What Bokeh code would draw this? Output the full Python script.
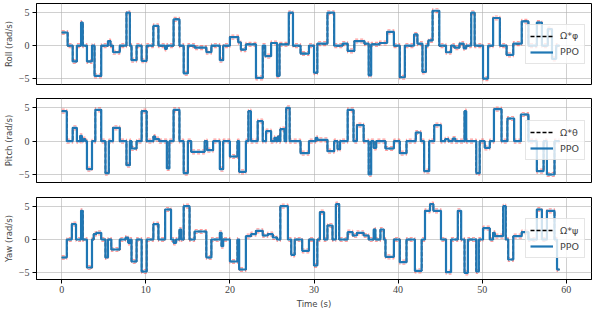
from bokeh.plotting import figure
from bokeh.layouts import column
from bokeh.models import Range1d, Legend, LegendItem, FixedTicker
from bokeh.embed import file_html
from bokeh.resources import INLINE

T_END = 59.2
TOL = 0.3

x_ticks = [0, 10, 20, 30, 40, 50, 60]
y_ticks = [-5, 0, 5]
y_tick_labels = {-5: "\u22125", 0: "0", 5: "5"}

roll_steps = [
    (0, 2.0), (0.7, 0), (1.3, -2.4), (1.8, 0), (2.3, 3.5), (2.5, 0), (3.0, -2.4), (3.6, 0),
    (3.9, -4.6), (4.7, 0), (5.5, 0.7), (5.8, 0), (6.1, -1.0), (6.9, 0), (7.7, 5.0), (8.1, 0),
    (8.3, -2.2), (8.9, 0), (9.5, -2.3), (10.1, 0), (10.9, 3.0), (11.5, 0), (12.3, -0.5),
    (12.5, 0), (13.3, 4.0), (14.0, 0), (14.5, -4.2), (15.0, 0), (15.8, -0.3), (17.2, -1.0),
    (17.8, 0), (18.8, -2.2), (19.2, 0), (20.0, 1.3), (21.0, 0.5), (21.3, -0.6), (21.9, 0.2),
    (23.1, -4.9), (23.9, 0), (24.2, -1.6), (24.9, 0.4), (25.6, -4.6), (25.9, 0.2), (27.0, 5.0),
    (27.5, 0), (28.4, -1.2), (29.4, 0), (30.0, -4.1), (30.4, 0.3), (31.6, 5.0), (32.4, 0),
    (33.4, 0.3), (34.0, -0.8), (34.8, 0.7), (36.0, 0.3), (36.5, -4.5), (36.8, 0.2), (37.8, 0.4),
    (38.7, 2.1), (39.5, 0), (40.2, -4.8), (40.8, 0), (41.9, 1.7), (42.3, 0.3), (42.9, -4.0),
    (43.3, 0), (43.6, 0.8), (44.1, 5.3), (44.9, 0), (45.7, -1.0), (46.3, 0), (46.7, -0.3),
    (47.3, 0.3), (47.8, -0.4), (48.1, 0), (48.7, 5.0), (49.1, 0), (50.1, -5.0), (50.7, 0),
    (51.3, 4.2), (52.1, 0), (52.9, -1.4), (53.7, 0.3), (54.7, 3.7), (55.5, 0), (56.5, 3.5),
    (57.1, 0), (57.8, 2.5), (58.3, -2.0), (58.8, 0),
]

pitch_steps = [
    (0, 4.5), (0.6, 0), (1.3, 2.0), (1.8, 0), (2.2, 0.8), (2.4, 0), (2.6, 0.3), (2.8, 0),
    (3.0, -4.2), (3.6, 0), (4.0, 4.7), (4.7, 0), (5.2, -4.8), (5.6, 0), (6.1, 2.0), (6.9, 0),
    (7.7, -3.6), (8.1, 0), (8.3, -1.1), (8.9, 0), (9.5, 4.5), (10.1, 0), (10.9, 0.7),
    (11.1, 0.3), (11.6, 0), (12.5, -4.1), (12.8, 0), (13.3, 4.7), (14.0, 0), (14.5, -4.8),
    (15.0, 0), (15.4, -1.6), (17.0, 0), (17.3, -1.35), (18.0, 0), (18.8, -4.2), (19.2, 0),
    (20.0, -2.3), (20.9, 0), (21.1, -4.6), (21.9, 0), (22.2, 4.5), (22.5, 0), (23.3, 3.0),
    (23.9, 0), (24.3, 1.5), (24.9, 0), (25.3, 0.5), (25.5, 0), (25.7, 0.7), (25.9, 0),
    (26.0, 1.8), (26.5, 0), (26.7, 5.0), (27.1, 0), (28.4, -1.8), (29.4, 0), (30.2, 0.5),
    (30.4, 0.2), (31.6, -1.5), (32.4, 0), (32.8, -1.2), (33.1, 0), (34.0, 4.7), (34.7, 0),
    (35.1, 2.4), (35.9, 0), (36.5, -5.0), (36.8, 0), (37.1, -1.0), (37.4, 0), (38.5, -1.1),
    (39.5, 0), (40.2, -1.8), (41.0, 0), (42.1, 1.3), (42.7, 0), (43.1, -4.5), (43.7, 0),
    (44.3, 2.4), (45.1, 0), (45.6, 0.3), (46.0, 0), (46.5, 0.4), (46.8, 0), (47.9, 4.5),
    (48.1, 0), (49.3, -4.8), (49.7, 0), (50.3, -1.0), (50.9, 0), (51.4, 4.8), (52.3, 0),
    (53.0, 3.4), (53.8, 0), (54.6, 4.0), (55.5, 0), (56.5, -4.5), (57.3, 0), (57.7, -5.0),
    (58.6, 0),
]

yaw_steps = [
    (0, -2.7), (0.6, 0), (1.2, 2.3), (1.7, 0), (2.3, 4.3), (2.5, 0), (3.0, -4.2), (3.6, 0),
    (3.8, 0.8), (4.1, 1.0), (4.7, 0), (5.2, -2.7), (5.5, 0), (5.9, -1.5), (6.9, 0), (7.6, 0.3),
    (7.9, -0.5), (8.1, 0), (8.3, -3.3), (8.9, 0), (9.5, -4.8), (10.1, 0), (10.9, 2.3),
    (11.5, 0), (12.3, 4.5), (13.0, 0), (13.3, -0.5), (13.6, 0), (14.0, 1.5), (14.2, 0),
    (14.5, 5.0), (15.2, 0), (15.8, 1.2), (17.2, -2.7), (17.8, 0), (18.8, 1.0), (19.0, -1.0),
    (19.2, 0), (20.0, -3.3), (20.9, 0), (21.1, -4.5), (21.9, 0.5), (22.5, 0.8), (23.1, 1.3),
    (23.9, 0.6), (24.5, 0.8), (25.1, 0.3), (25.6, 0), (26.0, 5.0), (26.9, 0), (27.3, -2.3),
    (27.7, 0), (28.6, -1.7), (29.4, 0), (30.0, -3.9), (30.4, 0), (30.7, 4.1), (31.2, 0),
    (31.6, 2.1), (32.2, 0), (32.6, 5.3), (33.0, 0), (34.0, 1.1), (34.6, 0.6), (35.1, 1.0),
    (35.9, 0.6), (36.5, 0), (37.1, 1.5), (37.3, 0), (37.9, 1.5), (38.3, 0), (38.5, -2.6),
    (39.5, 0), (40.2, -3.4), (41.0, 0), (42.0, -4.7), (42.8, 0), (43.2, 4.3), (43.8, 5.3),
    (44.2, 4.3), (45.1, 0), (45.7, -4.9), (46.3, 0), (47.1, 4.3), (47.5, 0), (47.9, -5.0),
    (48.3, 0), (49.3, -4.8), (49.6, 0), (50.1, 1.7), (50.9, 0), (51.3, 1.0), (51.5, 0.5),
    (52.5, 5.0), (52.8, 0), (53.1, -3.0), (53.7, 0.5), (54.7, 1.1), (55.5, 0), (56.5, 4.5),
    (57.1, 0), (57.7, 4.3), (58.6, 0), (58.9, -4.5),
]

panels = [
    (roll_steps, "Roll (rad/s)", "\u03a9*\u03c6", (-5.9, 6.4)),
    (pitch_steps, "Pitch (rad/s)", "\u03a9*\u03b8", (-6.2, 6.4)),
    (yaw_steps, "Yaw (rad/s)", "\u03a9*\u03c8", (-6.0, 6.3)),
]

SERIF = "Liberation Serif"
SANS = "DejaVu Sans"


def make_panel(steps, ylabel, sym, yr, height, top, bottom, last):
    t = [s[0] for s in steps] + [T_END]
    v = [s[1] for s in steps] + [steps[-1][1]]
    p = figure(width=598, height=height, x_range=Range1d(-3, 63), y_range=Range1d(*yr),
               output_backend="svg", toolbar_location=None,
               min_border_left=35, min_border_right=7, min_border_top=top,
               min_border_bottom=bottom)
    p.outline_line_color = "black"
    p.outline_line_width = 1
    p.outline_line_alpha = 1
    p.xaxis.ticker = FixedTicker(ticks=x_ticks)
    p.yaxis.ticker = FixedTicker(ticks=y_ticks)
    p.yaxis.major_label_overrides = y_tick_labels
    for ax in (p.xaxis[0], p.yaxis[0]):
        ax.axis_line_color = "black"
        ax.major_tick_line_color = "black"
        ax.major_tick_out = 4
        ax.major_tick_in = 0
        ax.minor_tick_line_color = None
        ax.major_label_text_font = SERIF
        ax.major_label_text_font_size = "10px"
        ax.axis_label_text_font = SANS
        ax.axis_label_text_font_size = "8.5px"
        ax.axis_label_text_font_style = "normal"
    p.yaxis.major_label_standoff = 3
    p.yaxis.axis_label_standoff = 2
    p.xaxis.major_label_standoff = 2
    p.xaxis.axis_label_standoff = 3
    p.yaxis.axis_label = ylabel
    if last:
        p.xaxis.axis_label = "Time (s)"
    else:
        p.xaxis.visible = False
    p.grid.grid_line_color = "#b0b0b0"
    p.grid.grid_line_alpha = 0.6
    p.grid.grid_line_width = 1

    hi = [x + TOL for x in v]
    lo = [x - TOL for x in v]
    p.step(t, hi, mode="after", line_color="#ff3b3b", line_alpha=0.5, line_width=1.2, line_dash="3 2")
    p.step(t, lo, mode="after", line_color="#ff3b3b", line_alpha=0.5, line_width=1.2, line_dash="3 2")
    r_ref = p.step(t, v, mode="after", line_color="black", line_width=1.5, line_dash="4 2")
    r_ppo = p.step(t, v, mode="after", line_color="#1f77b4", line_width=2.2)

    legend = Legend(items=[LegendItem(label=sym, renderers=[r_ref]),
                           LegendItem(label="PPO", renderers=[r_ppo])],
                    location="center_right")
    legend.margin = 6
    legend.padding = 4
    legend.spacing = 2
    legend.glyph_width = 23
    legend.glyph_height = 14
    legend.label_height = 14
    legend.label_standoff = 7
    legend.label_text_font = SANS
    legend.label_text_font_size = "9.5px"
    legend.border_line_color = "#cccccc"
    legend.border_line_width = 1
    legend.background_fill_alpha = 0.8
    p.add_layout(legend)
    return p


p1 = make_panel(*panels[0], height=91, top=3, bottom=7, last=False)
p2 = make_panel(*panels[1], height=98, top=7, bottom=7, last=False)
p3 = make_panel(*panels[2], height=129, top=8, bottom=39, last=True)

layout = column(p1, p2, p3, spacing=0)
open("out.html", "w").write(file_html(layout, INLINE))
